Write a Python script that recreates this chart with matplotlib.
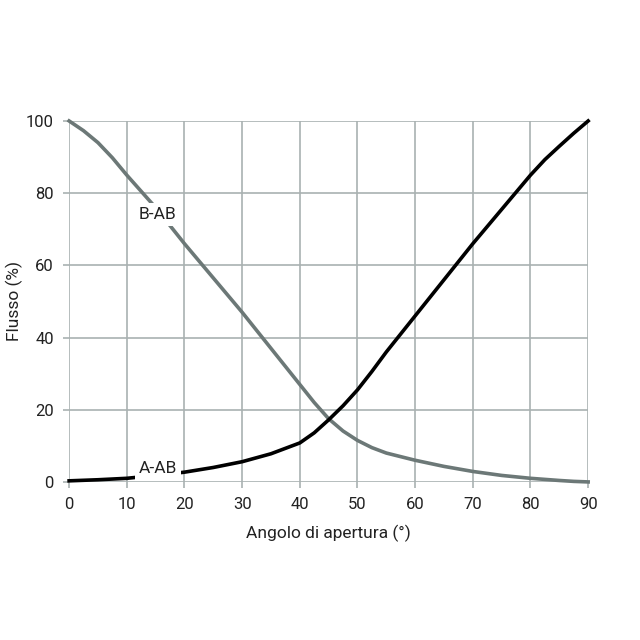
import matplotlib.pyplot as plt

plt.rcParams['font.family'] = ['Roboto', 'DejaVu Sans']

angle = [0, 2.5, 5, 7.5, 10, 15, 20, 25, 30, 35, 40, 42.5, 45, 47.5, 50, 52.5, 55,
         60, 65, 70, 75, 80, 82.5, 85, 87.5, 90]
flow_a_ab = [0.3, 0.45, 0.6, 0.8, 1.0, 1.8, 2.7, 4.0, 5.6, 7.8, 10.8, 13.6, 17.2, 21.1, 25.5, 30.6, 36,
             46, 56, 66, 75.5, 85, 89.3, 93, 96.6, 100]
flow_b_ab = [100, 97.3, 94, 89.8, 85, 76, 66, 56.5, 47, 37, 27, 22, 17.5, 14.1, 11.5, 9.5, 8,
             6, 4.3, 2.9, 1.8, 1.0, 0.7, 0.4, 0.15, 0]

xticks = [0, 10, 20, 30, 40, 50, 60, 70, 80, 90]
yticks = [0, 20, 40, 60, 80, 100]

grid_col = '#a9b1b1'
gray_col = '#6c7877'

fig = plt.figure(figsize=(6.4, 6.4), dpi=100)
ax = fig.add_axes([0.108, 0.247, 0.811, 0.564])

ax.plot(angle, flow_b_ab, color=gray_col, lw=2.6, clip_on=False, zorder=3)
ax.plot(angle, flow_a_ab, color='black', lw=2.6, clip_on=False, zorder=4)

ax.text(15.4, 74, 'B-AB', ha='center', va='center', fontsize=12.5, color='#222222',
        bbox=dict(facecolor='white', edgecolor='none', pad=3), zorder=5)
ax.text(15.4, 3.8, 'A-AB', ha='center', va='center', fontsize=12.5, color='#222222',
        bbox=dict(facecolor='white', edgecolor='none', pad=3), zorder=5)

ax.set_xlim(0, 90)
ax.set_ylim(0, 100)
ax.set_xticks(xticks)
ax.set_yticks(yticks)
ax.grid(True, color=grid_col, lw=1.2)
ax.set_axisbelow(True)
for s in ax.spines.values():
    s.set_visible(False)
ax.tick_params(length=4, width=1.2, color=grid_col, labelsize=12, labelcolor='#222222', pad=7)

ax.set_xlabel('Angolo di apertura (°)', fontsize=12.5, color='#222222', labelpad=9)
ax.set_ylabel('Flusso (%)', fontsize=12.5, color='#222222')
ax.yaxis.set_label_coords(-0.088, 0.5)

fig.savefig('out.png', dpi=100)
